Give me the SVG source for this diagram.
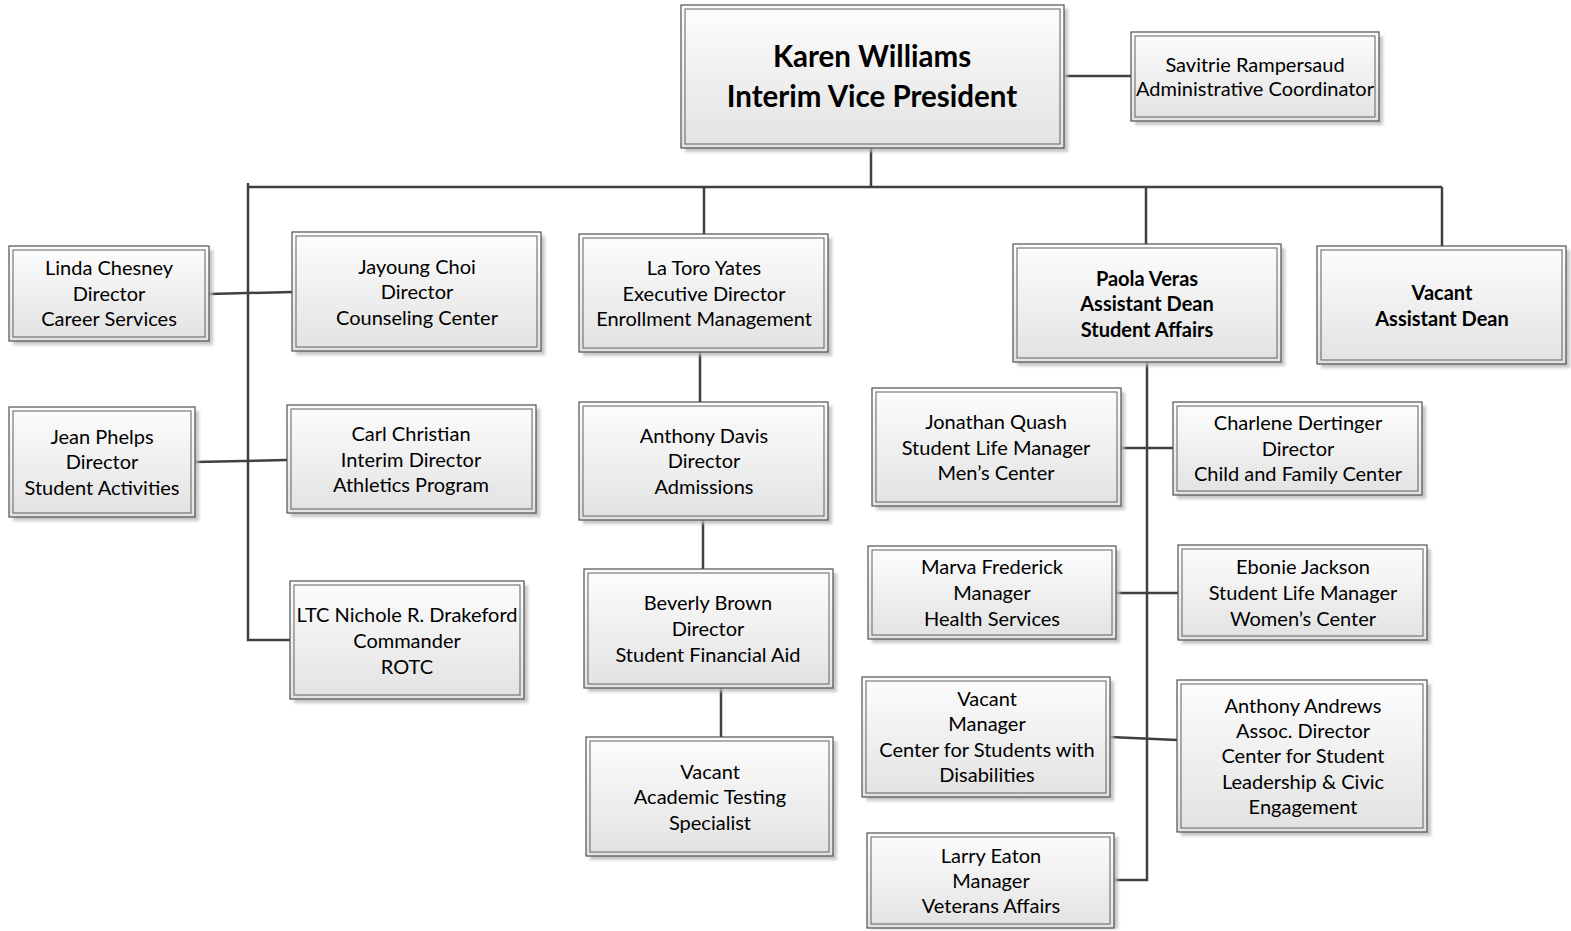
<svg xmlns="http://www.w3.org/2000/svg" width="1571" height="931" viewBox="0 0 1571 931">
<defs>
<linearGradient id="g" x1="0" y1="0" x2="0" y2="1">
<stop offset="0" stop-color="#fdfdfd"/>
<stop offset="1" stop-color="#e2e2e2"/>
</linearGradient>
<filter id="sh" x="-10%" y="-10%" width="130%" height="130%">
<feGaussianBlur stdDeviation="1.5"/>
</filter>
</defs>
<style>
.sh{fill:#b8b8b8;filter:url(#sh);opacity:.8}
.o{fill:url(#g);stroke:#505050;stroke-width:1.2}
.i{fill:none;stroke:#606060;stroke-width:1}
text{font-family:Lato,"Liberation Sans",sans-serif;font-size:20px;fill:#000;text-anchor:middle}
.b{font-weight:bold}
.big{font-size:29.5px;font-weight:bold}
.c{stroke:#404040;stroke-width:2.5;fill:none}
</style>
<rect width="1571" height="931" fill="#fff"/>
<g id="connectors" class="c">
<path d="M871 148V187"/>
<path d="M248 187H1442"/>
<path d="M1065 76H1131"/>
<path d="M248 183V640H290"/>
<path d="M704 187V234"/>
<path d="M1146 187V244"/>
<path d="M1442 187V246"/>
<path d="M209 294L292 292"/>
<path d="M195 462L287 460"/>
<path d="M700 352V402"/>
<path d="M703 520V569"/>
<path d="M721 688V737"/>
<path d="M1147 362V880H1114"/>
<path d="M1121 448H1173"/>
<path d="M1116 593H1178"/>
<path d="M1110 737L1177 740"/>
</g>
<g id="n-karen">
<rect class="sh" x="685" y="9" width="383" height="143"/>
<rect class="o" x="681" y="5" width="383" height="143"/>
<rect class="i" x="685" y="9" width="375" height="135"/>
<text class="big" x="872" y="67">Karen Williams</text>
<text class="big" x="872" y="107">Interim Vice President</text>
</g>
<g id="n-savitrie">
<rect class="sh" x="1135" y="36" width="248" height="89"/>
<rect class="o" x="1131" y="32" width="248" height="89"/>
<rect class="i" x="1135" y="36" width="240" height="81"/>
<text x="1255" y="72">Savitrie Rampersaud</text>
<text x="1255" y="96">Administrative Coordinator</text>
</g>
<g id="n-linda">
<rect class="sh" x="13" y="250" width="200" height="95"/>
<rect class="o" x="9" y="246" width="200" height="95"/>
<rect class="i" x="13" y="250" width="192" height="87"/>
<text x="109" y="275">Linda Chesney</text>
<text x="109" y="301">Director</text>
<text x="109" y="326">Career Services</text>
</g>
<g id="n-jayoung">
<rect class="sh" x="296" y="236" width="249" height="119"/>
<rect class="o" x="292" y="232" width="249" height="119"/>
<rect class="i" x="296" y="236" width="241" height="111"/>
<text x="417" y="274">Jayoung Choi</text>
<text x="417" y="299">Director</text>
<text x="417" y="325">Counseling Center</text>
</g>
<g id="n-latoro">
<rect class="sh" x="583" y="238" width="249" height="118"/>
<rect class="o" x="579" y="234" width="249" height="118"/>
<rect class="i" x="583" y="238" width="241" height="110"/>
<text x="704" y="275">La Toro Yates</text>
<text x="704" y="301">Executive Director</text>
<text x="704" y="326">Enrollment Management</text>
</g>
<g id="n-paola">
<rect class="sh" x="1017" y="248" width="268" height="118"/>
<rect class="o" x="1013" y="244" width="268" height="118"/>
<rect class="i" x="1017" y="248" width="260" height="110"/>
<text class="b" x="1147" y="286">Paola Veras</text>
<text class="b" x="1147" y="311">Assistant Dean</text>
<text class="b" x="1147" y="337">Student Affairs</text>
</g>
<g id="n-vacant-dean">
<rect class="sh" x="1321" y="250" width="249" height="118"/>
<rect class="o" x="1317" y="246" width="249" height="118"/>
<rect class="i" x="1321" y="250" width="241" height="110"/>
<text class="b" x="1442" y="300">Vacant</text>
<text class="b" x="1442" y="326">Assistant Dean</text>
</g>
<g id="n-jean">
<rect class="sh" x="13" y="411" width="186" height="110"/>
<rect class="o" x="9" y="407" width="186" height="110"/>
<rect class="i" x="13" y="411" width="178" height="102"/>
<text x="102" y="444">Jean Phelps</text>
<text x="102" y="469">Director</text>
<text x="102" y="495">Student Activities</text>
</g>
<g id="n-carl">
<rect class="sh" x="291" y="409" width="249" height="108"/>
<rect class="o" x="287" y="405" width="249" height="108"/>
<rect class="i" x="291" y="409" width="241" height="100"/>
<text x="411" y="441">Carl Christian</text>
<text x="411" y="467">Interim Director</text>
<text x="411" y="492">Athletics Program</text>
</g>
<g id="n-ltc">
<rect class="sh" x="294" y="585" width="234" height="118"/>
<rect class="o" x="290" y="581" width="234" height="118"/>
<rect class="i" x="294" y="585" width="226" height="110"/>
<text x="407" y="622">LTC Nichole R. Drakeford</text>
<text x="407" y="648">Commander</text>
<text x="407" y="674">ROTC</text>
</g>
<g id="n-anthony-davis">
<rect class="sh" x="583" y="406" width="249" height="118"/>
<rect class="o" x="579" y="402" width="249" height="118"/>
<rect class="i" x="583" y="406" width="241" height="110"/>
<text x="704" y="443">Anthony Davis</text>
<text x="704" y="468">Director</text>
<text x="704" y="494">Admissions</text>
</g>
<g id="n-beverly">
<rect class="sh" x="588" y="573" width="249" height="119"/>
<rect class="o" x="584" y="569" width="249" height="119"/>
<rect class="i" x="588" y="573" width="241" height="111"/>
<text x="708" y="610">Beverly Brown</text>
<text x="708" y="636">Director</text>
<text x="708" y="662">Student Financial Aid</text>
</g>
<g id="n-vacant-testing">
<rect class="sh" x="590" y="741" width="247" height="119"/>
<rect class="o" x="586" y="737" width="247" height="119"/>
<rect class="i" x="590" y="741" width="239" height="111"/>
<text x="710" y="779">Vacant</text>
<text x="710" y="804">Academic Testing</text>
<text x="710" y="830">Specialist</text>
</g>
<g id="n-jonathan">
<rect class="sh" x="876" y="392" width="249" height="118"/>
<rect class="o" x="872" y="388" width="249" height="118"/>
<rect class="i" x="876" y="392" width="241" height="110"/>
<text x="996" y="429">Jonathan Quash</text>
<text x="996" y="455">Student Life Manager</text>
<text x="996" y="480">Men’s Center</text>
</g>
<g id="n-charlene">
<rect class="sh" x="1177" y="406" width="249" height="93"/>
<rect class="o" x="1173" y="402" width="249" height="93"/>
<rect class="i" x="1177" y="406" width="241" height="85"/>
<text x="1298" y="430">Charlene Dertinger</text>
<text x="1298" y="456">Director</text>
<text x="1298" y="481">Child and Family Center</text>
</g>
<g id="n-marva">
<rect class="sh" x="872" y="550" width="248" height="93"/>
<rect class="o" x="868" y="546" width="248" height="93"/>
<rect class="i" x="872" y="550" width="240" height="85"/>
<text x="992" y="574">Marva Frederick</text>
<text x="992" y="600">Manager</text>
<text x="992" y="626">Health Services</text>
</g>
<g id="n-ebonie">
<rect class="sh" x="1182" y="549" width="249" height="95"/>
<rect class="o" x="1178" y="545" width="249" height="95"/>
<rect class="i" x="1182" y="549" width="241" height="87"/>
<text x="1303" y="574">Ebonie Jackson</text>
<text x="1303" y="600">Student Life Manager</text>
<text x="1303" y="626">Women’s Center</text>
</g>
<g id="n-vacant-manager">
<rect class="sh" x="866" y="681" width="248" height="120"/>
<rect class="o" x="862" y="677" width="248" height="120"/>
<rect class="i" x="866" y="681" width="240" height="112"/>
<text x="987" y="706">Vacant</text>
<text x="987" y="731">Manager</text>
<text x="987" y="757">Center for Students with</text>
<text x="987" y="782">Disabilities</text>
</g>
<g id="n-anthony-andrews">
<rect class="sh" x="1181" y="684" width="250" height="152"/>
<rect class="o" x="1177" y="680" width="250" height="152"/>
<rect class="i" x="1181" y="684" width="242" height="144"/>
<text x="1303" y="713">Anthony Andrews</text>
<text x="1303" y="738">Assoc. Director</text>
<text x="1303" y="763">Center for Student</text>
<text x="1303" y="789">Leadership &amp; Civic</text>
<text x="1303" y="814">Engagement</text>
</g>
<g id="n-larry">
<rect class="sh" x="871" y="837" width="247" height="92"/>
<rect class="o" x="867" y="833" width="247" height="95"/>
<rect class="i" x="871" y="837" width="239" height="87"/>
<text x="991" y="863">Larry Eaton</text>
<text x="991" y="888">Manager</text>
<text x="991" y="913">Veterans Affairs</text>
</g>
</svg>
